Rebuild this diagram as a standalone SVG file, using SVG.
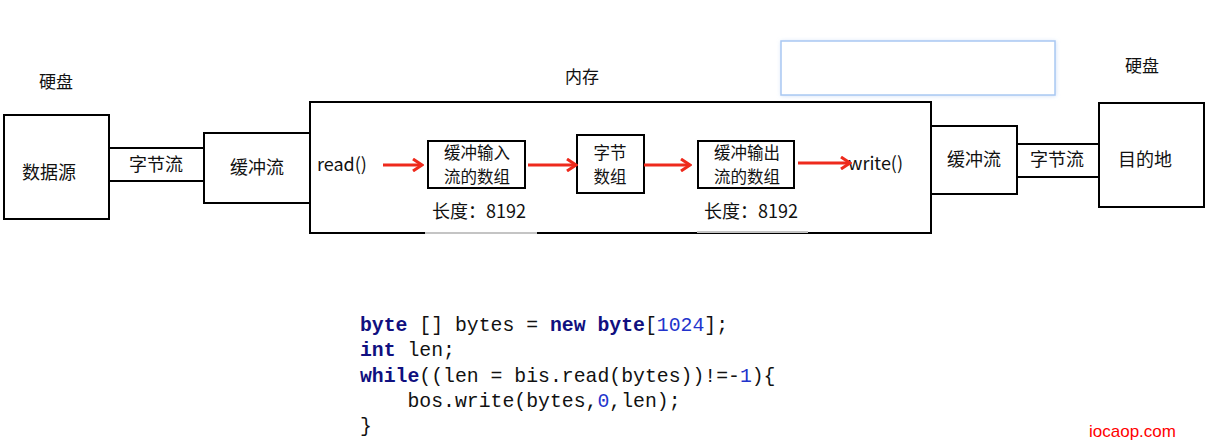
<svg xmlns="http://www.w3.org/2000/svg" width="1209" height="447" viewBox="0 0 1209 447">
<defs>
<style>
.box{fill:#fff;stroke:#000;stroke-width:2}
.t{font-family:"Noto Sans CJK SC","Liberation Sans",sans-serif;font-size:18px;fill:#111;text-anchor:middle}
.s{font-size:17px}
.w{font-size:16.5px}
.l{text-anchor:start}
.arr{stroke:#ee2a1c;stroke-width:3;fill:none;marker-end:url(#ah)}
.code{font-family:"Liberation Mono","DejaVu Sans Mono",monospace;font-size:19.8px;fill:#111;white-space:pre}
.kw{fill:#101080;font-weight:bold}
.num{fill:#2233cc}
.gl{stroke:#c4c4c4;stroke-width:2}
</style>
<marker id="ah" viewBox="0 0 12 14" refX="10" refY="7" markerWidth="12" markerHeight="14" markerUnits="userSpaceOnUse" orient="auto">
<path d="M1,1 L10,7 L1,13" fill="none" stroke="#ee2a1c" stroke-width="3"/>
</marker>
<filter id="sh" x="-10%" y="-30%" width="120%" height="160%">
<feGaussianBlur stdDeviation="2"/>
</filter>
</defs>
<rect width="1209" height="447" fill="#fff"/>

<g id="popup">
<rect x="781" y="41" width="275" height="55" fill="#cfe0f8" filter="url(#sh)"/>
<rect x="781" y="41" width="274" height="54" fill="#fff" stroke="#a9c8f2" stroke-width="1.5"/>
</g>

<g id="disk-left"><text class="t s" x="56" y="88">硬盘</text></g>
<g id="disk-right"><text class="t s" x="1142" y="72">硬盘</text></g>
<g id="memory-label"><text class="t s" x="582" y="83">内存</text></g>

<g id="memory">
<rect class="box" x="310" y="102" width="621" height="131"/>
</g>
<g id="source">
<rect class="box" x="4" y="115" width="105" height="104"/>
<text class="t" x="49" y="179">数据源</text>
</g>
<g id="byte-stream-left">
<rect class="box" x="109" y="148" width="95" height="33"/>
<text class="t" x="156" y="171">字节流</text>
</g>
<g id="buffer-stream-left">
<rect class="box" x="204" y="133" width="106" height="70"/>
<text class="t" x="257" y="174">缓冲流</text>
</g>
<g id="read"><text class="t l" x="317" y="171">read()</text></g>
<g id="input-array">
<rect class="box" x="428" y="141" width="97" height="47"/>
<text class="t w" x="477" y="158.5">缓冲输入<tspan x="477" dy="24">流的数组</tspan></text>
</g>
<g id="input-len">
<text class="t" x="479" y="218">长度：8192</text>
<line class="gl" x1="425" y1="233" x2="537" y2="233"/>
</g>
<g id="byte-array">
<rect class="box" x="577" y="135" width="67" height="58"/>
<text class="t w" x="610" y="158.5">字节<tspan x="610" dy="24">数组</tspan></text>
</g>
<g id="output-array">
<rect class="box" x="698" y="141" width="96" height="47"/>
<text class="t w" x="747" y="158.5">缓冲输出<tspan x="747" dy="24">流的数组</tspan></text>
</g>
<g id="output-len">
<text class="t" x="751" y="218">长度：8192</text>
<line class="gl" x1="697" y1="232" x2="808" y2="232"/>
</g>
<g id="write"><text class="t l" x="848" y="170">write()</text></g>
<g id="buffer-stream-right">
<rect class="box" x="931" y="126" width="86" height="68"/>
<text class="t" x="974" y="166">缓冲流</text>
</g>
<g id="byte-stream-right">
<rect class="box" x="1017" y="144" width="82" height="33"/>
<text class="t" x="1057" y="166">字节流</text>
</g>
<g id="destination">
<rect class="box" x="1099" y="103" width="105" height="104"/>
<text class="t" x="1145" y="166">目的地</text>
</g>

<g id="connectors">
<line class="arr" x1="383" y1="165" x2="422" y2="165"/>
<line class="arr" x1="528" y1="165" x2="576" y2="165"/>
<line class="arr" x1="644" y1="165" x2="690" y2="165"/>
<line class="arr" x1="798" y1="163" x2="850" y2="163"/>
</g>

<g id="code">
<text class="code" x="360" y="331"><tspan class="kw">byte</tspan> [] bytes = <tspan class="kw">new</tspan> <tspan class="kw">byte</tspan>[<tspan class="num">1024</tspan>];</text>
<text class="code" x="360" y="356"><tspan class="kw">int</tspan> len;</text>
<text class="code" x="360" y="382"><tspan class="kw">while</tspan>((len = bis.read(bytes))!=-<tspan class="num">1</tspan>){</text>
<text class="code" x="360" y="407">    bos.write(bytes,<tspan class="num">0</tspan>,len);</text>
<text class="code" x="360" y="432">}</text>
</g>

<g id="watermark"><text x="1089" y="437" font-family="Liberation Sans, sans-serif" font-size="17" fill="#ff0000">iocaop.com</text></g>
</svg>
